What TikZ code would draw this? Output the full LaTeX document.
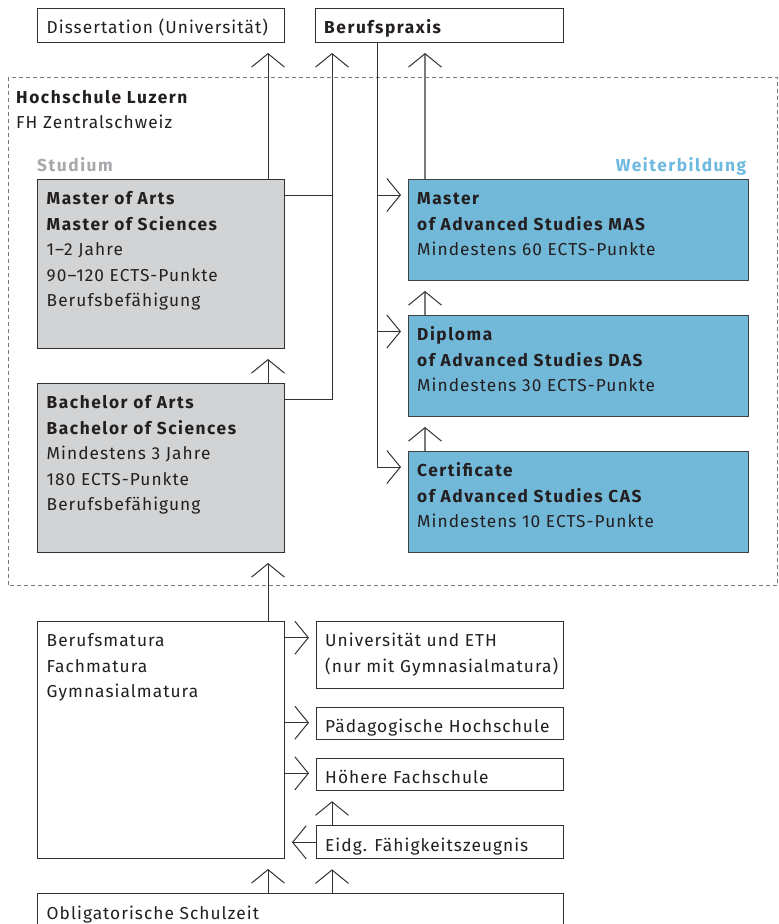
\documentclass[tikz,border=0pt]{standalone}
\usepackage{fontspec}
\setmainfont{Fira Sans}[LetterSpace=6,BoldFeatures={LetterSpace=9}]
\usetikzlibrary{arrows.meta,calc}
\definecolor{txt}{HTML}{231F20}
\definecolor{boxgray}{HTML}{D1D3D4}
\definecolor{boxblue}{HTML}{72B8D8}
\definecolor{lblgray}{HTML}{A7A9AC}
\definecolor{lblblue}{HTML}{6DB9E0}
\definecolor{linec}{HTML}{333333}
\definecolor{stemc}{HTML}{7A7A7A}
\definecolor{dashc}{HTML}{7A7A7A}
\tikzset{
  box/.style={draw=linec, line width=1pt, inner sep=0pt, anchor=north west},
  graybox/.style={box, fill=boxgray},
  bluebox/.style={box, fill=boxblue, draw=black!75},
  tx/.style={text=txt, inner sep=0pt, anchor=north west, align=left,
    font=\fontsize{17.3}{25.5}\selectfont},
  lbl/.style={inner sep=0pt, anchor=base west, font=\fontsize{17.3}{25.5}\selectfont},
  conn/.style={draw=linec, line width=1pt},
  arr/.style={conn, -{Straight Barb[length=13.5pt,width=33pt,line width=1pt,color=linec]}},
  vshort/.style={shorten >=10pt},
  hshort/.style={shorten >=7pt},
  graystem/.style={draw=stemc, line width=1.3pt},
}
\newcommand{\fl}{\rule{0pt}{25.5pt}}
\begin{document}
\begin{tikzpicture}[x=1pt,y=-1pt]
\useasboundingbox (0,0) rectangle (779,924);
\clip (0,0) rectangle (779,924);
\fill[white] (0,0) rectangle (779,924);

% frame
\draw[dashc, line width=1pt, dash pattern=on 4pt off 3pt] (8,77) rectangle (777.5,585.7);

% top boxes
\node[box, minimum width=247pt, minimum height=34pt] (diss) at (37,8) {};
\node[tx] (disst) at ($(diss.north west)+(9.5,0)$) {\fl Dissertation (Universität)};
\node[box, minimum width=248pt, minimum height=34pt] (beruf) at (315,8) {};
\node[tx] (beruft) at ($(beruf.north west)+(9,0)$) {\fl\textbf{Berufspraxis}};

% labels
\node[lbl, text=txt] (hslu) at (16,103) {\textbf{Hochschule Luzern}};
\node[lbl, text=txt] (fhz) at (16,128.5) {FH Zentralschweiz};
\node[lbl, text=lblgray] (stud) at (37,171) {\textbf{Studium}};
\node[lbl, text=lblblue, anchor=base east] (weiter) at (748,171) {\textbf{Weiterbildung}};

% Studium boxes
\node[graybox, minimum width=247pt, minimum height=169pt] (master) at (37,179) {};
\node[tx] (mastert) at ($(master.north west)+(9.5,0)$) {\fl\textbf{Master of Arts}\\\textbf{Master of Sciences}\\1–2 Jahre\\90–120 ECTS-Punkte\\Berufsbefähigung};
\node[graybox, minimum width=247pt, minimum height=169pt] (bachelor) at (37,383) {};
\node[tx] (bachelort) at ($(bachelor.north west)+(9.5,0)$) {\fl\textbf{Bachelor of Arts}\\\textbf{Bachelor of Sciences}\\Mindestens 3 Jahre\\180 ECTS-Punkte\\Berufsbefähigung};

% Weiterbildung boxes
\node[bluebox, minimum width=340pt, minimum height=101pt] (mas) at (408,179) {};
\node[tx] (mast) at ($(mas.north west)+(9,0)$) {\fl\textbf{Master}\\\textbf{of Advanced Studies MAS}\\Mindestens 60 ECTS-Punkte};
\node[bluebox, minimum width=340pt, minimum height=101pt] (das) at (408,315) {};
\node[tx] (dast) at ($(das.north west)+(9,0)$) {\fl\textbf{Diploma}\\\textbf{of Advanced Studies DAS}\\Mindestens 30 ECTS-Punkte};
\node[bluebox, minimum width=340pt, minimum height=101pt] (cas) at (408,451) {};
\node[tx] (cast) at ($(cas.north west)+(9,0)$) {\fl\textbf{Certificate}\\\textbf{of Advanced Studies CAS}\\Mindestens 10 ECTS-Punkte};

% lower boxes
\node[box, minimum width=247pt, minimum height=237pt] (matura) at (37,621) {};
\node[tx] (maturat) at ($(matura.north west)+(9.5,0)$) {\fl Berufsmatura\\Fachmatura\\Gymnasialmatura};
\node[box, minimum width=247pt, minimum height=67pt] (uni) at (316,621) {};
\node[tx] (unit) at ($(uni.north west)+(9,0)$) {\fl Universität und ETH\\(nur mit Gymnasialmatura)};
\node[box, minimum width=247pt, minimum height=32.5pt] (paed) at (316,706.5) {};
\node[tx] (paedt) at ($(paed.north west)+(9,0)$) {\fl Pädagogische Hochschule};
\node[box, minimum width=247pt, minimum height=32.5pt] (hfs) at (316,757.7) {};
\node[tx] (hfst) at ($(hfs.north west)+(9,0)$) {\fl Höhere Fachschule};
\node[box, minimum width=247pt, minimum height=33pt] (efz) at (316,825.3) {};
\node[tx] (efzt) at ($(efz.north west)+(9,0)$) {\fl Eidg. Fähigkeitszeugnis};
\node[box, minimum width=526pt, minimum height=60pt] (oblig) at (37,893.3) {};
\node[tx] (obligt) at ($(oblig.north west)+(9.5,0)$) {\fl Obligatorische Schulzeit};

% column coordinates
\coordinate (xa) at (268,0);
\coordinate (xb) at (332,0);
\coordinate (xc) at (377,0);
\coordinate (xd) at (425,0);
\coordinate (masout) at ($(master.north east)+(0,16)$);
\coordinate (bacout) at ($(bachelor.north east)+(0,16)$);
\coordinate (masin) at ($(mas.north west)+(0,16)$);
\coordinate (dasin) at ($(das.north west)+(0,16.5)$);
\coordinate (casin) at ($(cas.north west)+(0,16)$);
\coordinate (uniin) at ($(uni.north west)+(0,16.7)$);
\coordinate (paedin) at ($(paed.north west)+(0,16.2)$);
\coordinate (hfsin) at ($(hfs.north west)+(0,15.6)$);

% vertical arrows left column
\draw[arr, vshort] (master.north -| xa) -- (diss.south -| xa);
\draw[arr, vshort] (bachelor.north -| xa) -- (master.south -| xa);
\draw[arr, vshort] (matura.north -| xa) -- (bachelor.south -| xa);
\draw[arr, vshort] (oblig.north -| xa) -- (matura.south -| xa);
\draw[arr, vshort] (oblig.north -| xb) -- (efz.south -| xb);
\draw[arr, vshort] (efz.north -| xb) -- (hfs.south -| xb);

% Studium -> Berufspraxis
\draw[conn] (masout) -- (masout -| xb);
\draw[arr, vshort] (bacout) -| (beruf.south -| xb);

% Berufspraxis -> Weiterbildung
\draw[arr, hshort] (beruf.south -| xc) |- (casin);
\draw[arr, hshort] (masin -| xc) -- (masin);
\draw[arr, hshort] (dasin -| xc) -- (dasin);

% Weiterbildung chain
\draw[arr, vshort, graystem] (mas.north -| xd) -- (beruf.south -| xd);
\draw[arr, vshort, graystem] (das.north -| xd) -- (mas.south -| xd);
\draw[arr, vshort, graystem] (cas.north -| xd) -- (das.south -| xd);

% Matura -> right
\draw[arr, hshort] (uniin -| matura.east) -- (uniin);
\draw[arr, hshort] (paedin -| matura.east) -- (paedin);
\draw[arr, hshort] (hfsin -| matura.east) -- (hfsin);
\draw[arr, hshort] (efz.west) -- (efz.west -| matura.east);
\end{tikzpicture}
\end{document}
